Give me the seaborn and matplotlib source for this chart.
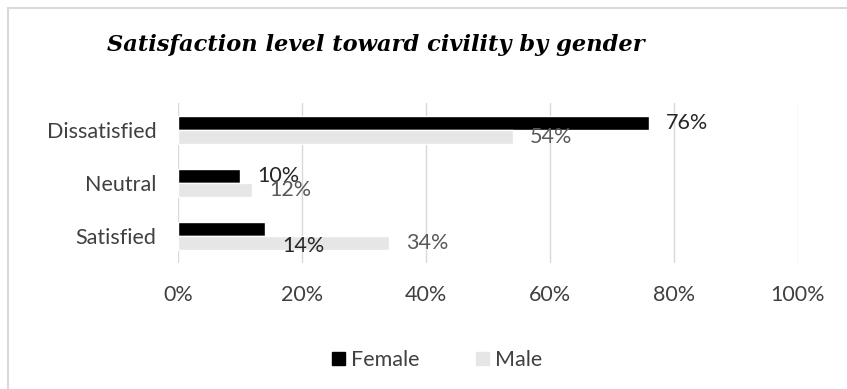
import matplotlib
matplotlib.use("Agg")
import matplotlib.pyplot as plt
import seaborn as sns
import pandas as pd
from matplotlib.patches import Rectangle

categories = ["Dissatisfied", "Neutral", "Satisfied"]
female = [76, 10, 14]
male = [54, 12, 34]
genders = ["Female", "Male"]
x_ticks = [0, 20, 40, 60, 80, 100]
title = "Satisfaction level toward civility by gender"

df = pd.DataFrame({
    "category": categories * 2,
    "value": female + male,
    "gender": ["Female"] * len(categories) + ["Male"] * len(categories),
})

sns.set_theme(style="white")
plt.rcParams["font.family"] = ["Lato", "DejaVu Sans"]

FS = 15.5
fig = plt.figure(figsize=(8.47, 3.89), dpi=100)
ax = fig.add_axes([178 / 847, 1 - 263 / 389, 620 / 847, 160 / 389])

palette = {"Female": "#000000", "Male": "#E7E6E6"}
sns.barplot(data=df, x="value", y="category", hue="gender", order=categories,
            hue_order=genders, palette=palette, orient="h", width=0.52,
            saturation=1, ax=ax, legend=False)

ax.set_xlim(0, 100)
ax.set_ylim(2.5, -0.5)
ax.set_xticks(x_ticks)
ax.set_xticklabels([f"{t}%" for t in x_ticks])
ax.set_xlabel("")
ax.set_ylabel("")
ax.grid(axis="x", color="#D9D9D9", linewidth=1)
ax.set_axisbelow(True)
for s in ax.spines.values():
    s.set_visible(False)
ax.tick_params(axis="y", length=0, pad=15.5, labelsize=FS, labelcolor="#404040")
ax.tick_params(axis="x", length=0, pad=16, labelsize=FS, labelcolor="#404040")

label_colors = {"Female": "#262626", "Male": "#595959"}
for gi, g in enumerate(genders):
    cont = ax.containers[gi]
    vals = female if g == "Female" else male
    for ci, (patch, v) in enumerate(zip(cont.patches, vals)):
        yc = patch.get_y() + patch.get_height() / 2
        dy = 0
        if g == "Female" and categories[ci] == "Satisfied":
            dy = -17
        ax.annotate(f"{v}%", xy=(v, yc), xytext=(17, dy), textcoords="offset pixels",
                    ha="left", va="center", fontsize=FS, color=label_colors[g])

handles = [Rectangle((0, 0), 1, 1, color=palette[g]) for g in genders]
fig.legend(handles, genders, loc="center", bbox_to_anchor=(437 / 847, 1 - 360 / 389),
           ncol=2, frameon=False, fontsize=FS, handlelength=0.6, handleheight=0.6,
           handletextpad=0.3, columnspacing=2.6, labelcolor="#404040")

fig.text(107 / 847, 1 - 45 / 389, title, ha="left", va="center",
         fontsize=16.2, fontweight="bold", fontstyle="italic",
         family=["DejaVu Serif"], color="#000000")

fig.patches.append(Rectangle((8 / 847, -0.01), 1.0, 1 - 8 / 389 + 0.01,
                             transform=fig.transFigure, fill=False,
                             edgecolor="#D9D9D9", linewidth=1.5))

fig.savefig("out.png", dpi=100)
